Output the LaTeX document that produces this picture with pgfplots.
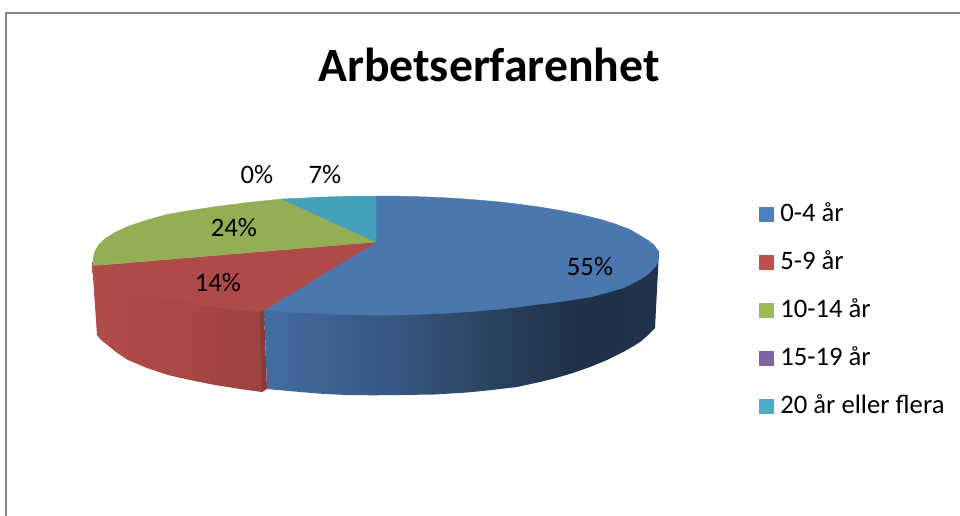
\documentclass[border=0pt]{standalone}
\usepackage{fontspec}
\setmainfont{Carlito}
\usepackage{pgfplots}
\pgfplotsset{compat=1.18}
\definecolor{cBlueTop}{HTML}{4977AE}
\definecolor{cRedTop}{HTML}{AE4A48}
\definecolor{cGreenTop}{HTML}{93AE55}
\definecolor{cTealTop}{HTML}{45A1B8}
\definecolor{cPurpleTop}{HTML}{7A5F9A}
\definecolor{cRedFace}{HTML}{8C3A38}
\definecolor{cFrame}{HTML}{868686}
\definecolor{lBlue}{HTML}{4F81BD}
\definecolor{lRed}{HTML}{C0504D}
\definecolor{lGreen}{HTML}{9BBB59}
\definecolor{lPurple}{HTML}{8064A2}
\definecolor{lTeal}{HTML}{4BACC6}
\pgfdeclarehorizontalshading{blueside}{100bp}{
  rgb(0bp)=(0.26,0.43,0.63);
  rgb(25bp)=(0.26,0.43,0.63);
  rgb(42bp)=(0.21,0.34,0.50);
  rgb(60bp)=(0.14,0.22,0.32);
  rgb(64bp)=(0.12,0.195,0.285);
  rgb(75bp)=(0.125,0.2,0.29);
  rgb(100bp)=(0.125,0.2,0.29)}
\pgfdeclarehorizontalshading{redside}{100bp}{
  rgb(0bp)=(0.69,0.295,0.285);
  rgb(25bp)=(0.69,0.295,0.285);
  rgb(50bp)=(0.665,0.28,0.27);
  rgb(75bp)=(0.62,0.26,0.25);
  rgb(100bp)=(0.62,0.26,0.25)}
\newcommand{\lab}{\fontsize{20pt}{22pt}\selectfont}
\begin{document}
\begin{tikzpicture}
\begin{axis}[
  scale only axis, width=720pt, height=386.25pt,
  xmin=0, xmax=960, ymin=0, ymax=515, y dir=reverse,
  hide axis, clip=true,
  legend style={draw=none, fill=none, at={(axis cs:759,202.5)}, anchor=north west,
    row sep=18pt, inner sep=0pt, outer sep=0pt,
    nodes={inner sep=0pt, outer sep=0pt, anchor=west, text height=14pt, text depth=4pt},
    font=\lab},
  legend cell align=left,
  legend image code/.code={\fill[draw=none,#1] (0pt,-5.6pt) rectangle (11.25pt,5.6pt); \path (15.8pt,0pt);},
]
% page
\addplot[forget plot, draw=none, fill=white] coordinates {(0,0) (960,0) (960,515) (0,515)} -- cycle;
% frame
\addplot[forget plot, color=cFrame, line width=1.9pt] coordinates {(6,520) (6,13) (965,13)};
% side walls
\addplot[forget plot, draw=none, shading=redside] coordinates {
 (92,262) (262,306) (262,392) (240,389) (215,385) (190,380) (168,375) (147,368) (128,360) (116,352)
 (105,343) (101,340) (97,335)} -- cycle;
\addplot[forget plot, draw=none, shading=blueside] coordinates {
 (264,306) (659,251) (655,328) (652,331) (647,336) (640,342) (632,347) (625,351) (616,355.5) (607,360)
 (590,367) (573,373) (556,378) (540,382) (517,387) (492,390) (467,392.5) (434,394.5) (400,395)
 (373,395.3) (347,395) (322,393.8) (300,392) (267,389)} -- cycle;
\addplot[forget plot, draw=none, fill=cRedFace] coordinates {(260,312) (264,310) (267,389) (262,392)} -- cycle;
% top faces: 55 %, 14 %, 24 %, 0 %, 7 %
\addplot[forget plot, draw=cBlueTop, line width=0.3pt, fill=cBlueTop] coordinates {
 (376,242) (376,196) (400,196.2) (425,196.9) (450,198) (475,199.8) (500,202) (520,204.4) (540,207.1)
 (560,210.4) (580,214.4) (600,219.3) (615,223.9) (630,229.6) (640,235.5) (648,240.3) (654,245) (657.5,250)
 (659,255) (658,261.7) (656,265.6) (652,270.5) (647,275) (641,278.8) (632,283.7) (623,288) (610,291.7)
 (600,294.5) (590,297) (575,299.4) (558,302) (540,304) (520,306.8) (500,309) (475,311.3) (450,313)
 (425,314.1) (400,314.8) (375,315) (350,314.7) (325,314) (300,312.7) (282,311.6) (264,310)} -- cycle;
\addplot[forget plot, draw=cRedTop, line width=0.3pt, fill=cRedTop] coordinates {
 (376,242) (264,310) (260,312) (240,310) (215,307) (195,304) (175,300) (155,296) (135,290) (123,286)
 (113,281.5) (105,277) (97,271) (92,266)} -- cycle;
\addplot[forget plot, draw=cGreenTop, line width=0.3pt, fill=cGreenTop] coordinates {
 (376,242) (93,265.5) (93.5,257) (95,251) (99,244.5) (105,238.7) (115,232.5) (128,226.3) (147,220) (168,214.3)
 (190,210.5) (215,206.7) (248,202.5) (282,199)} -- cycle;
\addplot[forget plot, draw=none, fill=cPurpleTop] coordinates {(376,242) (282,199) (282,199)} -- cycle;
\addplot[forget plot, draw=cTealTop, line width=0.3pt, fill=cTealTop] coordinates {
 (376,242) (282,199) (300,198.2) (320,197.2) (350,196.2) (376,196)} -- cycle;
% legend
\addlegendimage{fill=lBlue}
\addlegendentry{0-4 år}
\addlegendimage{fill=lRed}
\addlegendentry{5-9 år}
\addlegendimage{fill=lGreen}
\addlegendentry{10-14 år}
\addlegendimage{fill=lPurple}
\addlegendentry{15-19 år}
\addlegendimage{fill=lTeal}
\addlegendentry{20 år eller flera}
% labels
\node[font=\lab] at (axis cs:590,267) {55\%};
\node[font=\lab] at (axis cs:218,283) {14\%};
\node[font=\lab] at (axis cs:234,228) {24\%};
\node[font=\lab] at (axis cs:257,175) {0\%};
\node[font=\lab] at (axis cs:325,175) {7\%};
\node[font=\fontsize{35.8pt}{40pt}\selectfont\bfseries] at (axis cs:489,65) {Arbetserfarenhet};
\end{axis}
\end{tikzpicture}
\end{document}
